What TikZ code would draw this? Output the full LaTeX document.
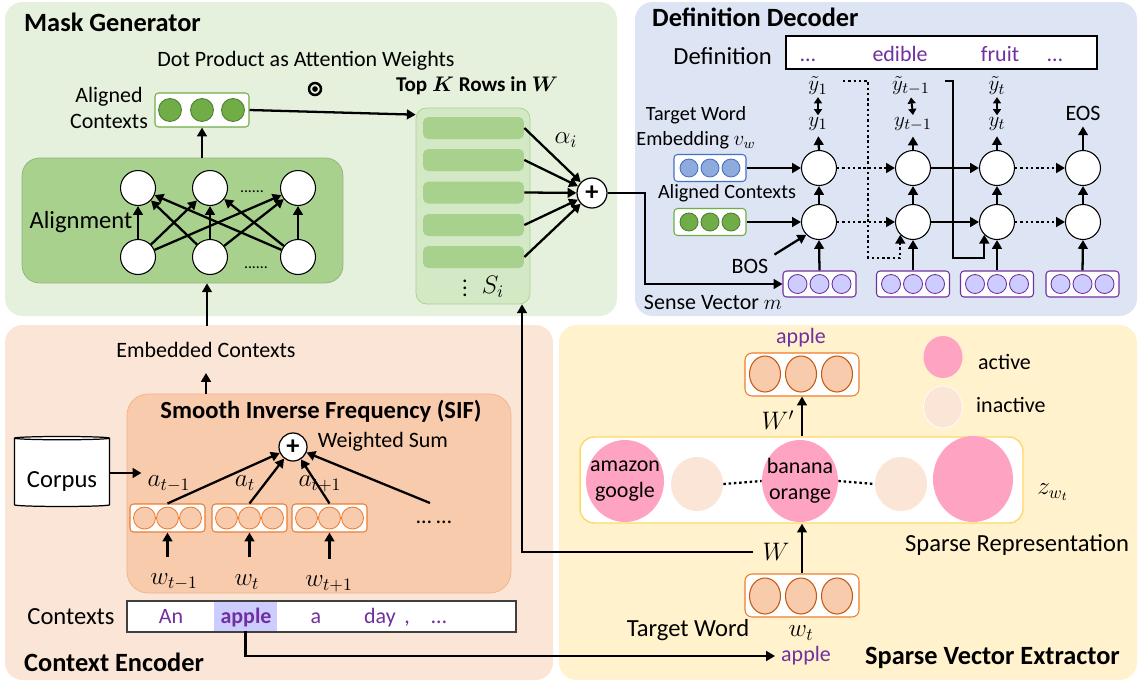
\documentclass[tikz,border=0pt]{standalone}
\usepackage{fontspec}
\usepackage{bm}
\setmainfont{Carlito}
\usetikzlibrary{arrows.meta,shapes.geometric}

\definecolor{mgbg}{HTML}{E5F1DD}
\definecolor{ddbg}{HTML}{DDE4F3}
\definecolor{cebg}{HTML}{FBE5D6}
\definecolor{svbg}{HTML}{FFF2CC}
\definecolor{leaf}{HTML}{70AD47}
\definecolor{leafdark}{HTML}{507E32}
\definecolor{moss}{HTML}{A9D18E}
\definecolor{mosslight}{HTML}{D3E8C4}
\definecolor{sky}{HTML}{8FAADC}
\definecolor{skydark}{HTML}{4472C4}
\definecolor{grape}{HTML}{7030A0}
\definecolor{lilac}{HTML}{CCCCFF}
\definecolor{peach}{HTML}{F8CBAD}
\definecolor{rust}{HTML}{ED7D31}
\definecolor{rustdark}{HTML}{C55A11}
\definecolor{rose}{HTML}{FFA3C2}
\definecolor{sifline}{HTML}{F4B183}
\definecolor{gold}{HTML}{FFD966}

\tikzset{
  every node/.style={font=\fontsize{12.5}{15}\selectfont},
  paneltitle/.style={font=\fontsize{15}{18}\selectfont\bfseries},
  bigtxt/.style={font=\fontsize{14}{16}\selectfont},
  smalltxt/.style={font=\fontsize{11.5}{14}\selectfont},
  arr/.style={-{Triangle[length=5pt,width=5.5pt]}, line width=1.3pt},
  twoway/.style={{Triangle[length=3.5pt,width=4.5pt]}-{Triangle[length=3.5pt,width=4.5pt]}, line width=1.1pt},
  dotline/.style={dash pattern=on 1.4pt off 1.6pt},
  neuron/.style={circle, draw, fill=white, line width=0.6pt, minimum size=0.7cm, inner sep=0pt},
  vecbox/.style={draw, fill=white, rounded corners=2pt, inner sep=0pt, line width=0.6pt},
  sumnode/.style={circle, draw, fill=white, line width=0.7pt, inner sep=0pt, font=\fontsize{15}{15}\selectfont\bfseries},
}

\begin{document}
\begin{tikzpicture}[x=0.02cm, y=-0.02cm]
\useasboundingbox (0,0) rectangle (1139,683);

% Panels
\fill[mgbg, rounded corners=10pt] (5,2) rectangle (617,316);
\fill[ddbg, rounded corners=10pt] (635,2) rectangle (1137,316);
\fill[cebg, rounded corners=10pt] (5,325) rectangle (553,680);
\fill[svbg, rounded corners=10pt] (559,325) rectangle (1137,680);

% Mask Generator
\node[paneltitle, anchor=west] (mgtitle) at (18,22) {Mask Generator};
\node (dotlbl) at (306,61) {Dot Product as Attention Weights};
\node[circle, draw, line width=1.4pt, minimum size=0.24cm, inner sep=0pt] (odot) at (315,89) {};
\fill (odot) circle (1.6pt);
\node[align=center, font=\fontsize{12.5}{15.3}\selectfont] (alignedlbl) at (109,108) {Aligned\\Contexts};
\node[vecbox, draw=leaf, minimum width=1.88cm, minimum height=0.68cm] (mgvec) at (202,110) {};
\foreach \dx in {-32,0,31} \draw[fill=leaf, draw=leafdark, line width=0.5pt] (202+\dx,110) circle (0.23cm);

% Alignment layer
\node[draw=moss!85!black, fill=moss, rounded corners=10pt, minimum width=6.42cm, minimum height=2.5cm] (alignbox) at (182.5,220.5) {};
\node[bigtxt] (alignlbl) at (81,222) {Alignment};
\node[neuron] (t1) at (138,188) {};
\node[neuron] (t2) at (210,188) {};
\node[neuron] (t3) at (298,188) {};
\node[neuron] (b1) at (138,257) {};
\node[neuron] (b2) at (210,257) {};
\node[neuron] (b3) at (298,257) {};
\node[anchor=base, font=\fontsize{9}{9}\selectfont] (topdots) at (252,192) {......};
\node[anchor=base, font=\fontsize{9}{9}\selectfont] (botdots) at (256,268) {......};
\foreach \s in {b1,b2,b3}
  \foreach \t in {t1,t2,t3}
    \draw[arr] (\s) -- (\t);
\draw[arr] (alignbox.north -| mgvec) -- (mgvec.south);

% Top K rows
\node[font=\fontsize{12}{14}\selectfont\bfseries] (topktitle) at (477,86) {Top $\bm{K}$ Rows in $\bm{W}$};
\node[draw=moss, fill=mosslight, rounded corners=6pt, minimum width=2.28cm, minimum height=3.92cm] (topk) at (473,206) {};
\node[fill=moss, rounded corners=3pt, minimum width=2.02cm, minimum height=0.44cm, inner sep=0pt] (row1) at (473.5,128) {};
\node[fill=moss, rounded corners=3pt, minimum width=2.02cm, minimum height=0.44cm, inner sep=0pt] (row2) at (473.5,160) {};
\node[fill=moss, rounded corners=3pt, minimum width=2.02cm, minimum height=0.44cm, inner sep=0pt] (row3) at (473.5,192.5) {};
\node[fill=moss, rounded corners=3pt, minimum width=2.02cm, minimum height=0.44cm, inner sep=0pt] (row4) at (473.5,225) {};
\node[fill=moss, rounded corners=3pt, minimum width=2.02cm, minimum height=0.44cm, inner sep=0pt] (row5) at (473.5,257) {};
\node[inner sep=0pt] (vdots) at (465,283) {$\vdots$};
\node[bigtxt, inner sep=0pt] (si) at (493,287) {$S_i$};
\node[sumnode, minimum size=0.6cm] (topplus) at (592,193) {+};
\foreach \i in {1,...,5} \draw[arr] (row\i.east) -- (topplus);
\node[bigtxt] (alpha) at (566,140) {$\alpha_i$};
\draw[arr] (mgvec.east) -- ([yshift=-0.14cm]topk.north west);

% Definition Decoder
\node[paneltitle, anchor=west] (ddtitle) at (646,17) {Definition Decoder};
\node[bigtxt, anchor=east] (deflbl) at (778,56) {Definition};
\node[draw, fill=white, line width=0.7pt, minimum width=6.22cm, minimum height=0.66cm] (defbox) at (941.5,52.5) {};
\node[text=grape, anchor=base] (dw1) at (808,61) {\dots};
\node[text=grape, anchor=base] (dw2) at (900,61) {edible};
\node[text=grape, anchor=base] (dw3) at (1000,61) {fruit};
\node[text=grape, anchor=base] (dw4) at (1055,61) {\dots};
\node[inner sep=0pt] (yt1) at (818,86) {$\tilde{y}_1$};
\node[inner sep=0pt] (yt2) at (911,86) {$\tilde{y}_{t-1}$};
\node[inner sep=0pt] (yt3) at (997,86) {$\tilde{y}_t$};
\node[inner sep=0pt] (y1) at (818,124) {$y_1$};
\node[inner sep=0pt] (y2) at (913,124) {$y_{t-1}$};
\node[inner sep=0pt] (y3) at (997,124) {$y_t$};
\node (eos) at (1083,113) {EOS};
\draw[twoway] ([yshift=-1pt]yt1.south) -- ([yshift=1pt]y1.north);
\draw[twoway] ([yshift=-1pt]yt2.south) -- ([yshift=1pt]y2.north);
\draw[twoway] ([yshift=-1pt]yt3.south) -- ([yshift=1pt]y3.north);

% Decoder cells
\node[neuron] (u1) at (819,168) {};
\node[neuron] (u2) at (913,168) {};
\node[neuron] (u3) at (997,168) {};
\node[neuron] (u4) at (1083,168) {};
\node[neuron] (l1) at (819,222) {};
\node[neuron] (l2) at (913,222) {};
\node[neuron] (l3) at (997,222) {};
\node[neuron] (l4) at (1083,222) {};
\foreach \i in {1,...,4} \draw[arr] (l\i) -- (u\i);
\draw[arr, shorten >=3pt] (u1.north) -- (y1.south);
\draw[arr, shorten >=3pt] (u2.north) -- (y2.south);
\draw[arr, shorten >=3pt] (u3.north) -- (y3.south);
\draw[arr] (u4.north) -- (eos.south);
\draw[arr, dotline] (u1) -- (u2);
\draw[arr] (u2) -- (u3);
\draw[arr, dotline] (u3) -- (u4);
\draw[arr, dotline] (l1) -- (l2);
\draw[arr] (l2) -- (l3);
\draw[arr, dotline] (l3) -- (l4);

% Feedback of previous words
\coordinate (fbA) at (843,81);
\coordinate (fbB) at (868,258);
\draw[arr, dotline] (fbA) -| (fbB) -| (l2.south west);
\coordinate (fbC) at (945,81);
\coordinate (fbD) at (953,258);
\draw[arr] (fbC) -| (fbD) -| (l3.south west);

% Decoder inputs
\node[smalltxt, align=center] (twlbl) at (696,128) {Target Word\\Embedding $v_w$};
\node[vecbox, draw=skydark, minimum width=1.44cm, minimum height=0.54cm] (twvec) at (710,168) {};
\foreach \dx in {-21,0,21} \draw[fill=sky, draw=skydark, line width=0.5pt] (710+\dx,168) circle (0.18cm);
\node[smalltxt] (aclbl) at (727,193) {Aligned Contexts};
\node[vecbox, draw=leaf, minimum width=1.44cm, minimum height=0.54cm] (acvec) at (710,222) {};
\foreach \dx in {-21,0,21} \draw[fill=leaf, draw=leafdark, line width=0.5pt] (710+\dx,222) circle (0.18cm);
\draw[arr] (twvec.east) -- (u1);
\draw[arr] (acvec.east) -- (l1);
\node (bos) at (750,266) {BOS};
\draw[arr] (bos.25) -- (l1.south west);
\foreach \i/\x in {1/819.5, 2/913, 3/997, 4/1082.5} {
  \node[vecbox, draw=grape, minimum width=1.46cm, minimum height=0.52cm] (sense\i) at (\x,284) {};
  \foreach \dx in {-22,0,22} \draw[fill=lilac, draw=grape, line width=0.5pt] (\x+\dx,284) circle (0.19cm);
  \draw[arr] (sense\i.north) -- (l\i.south);
}
\node (senselbl) at (713,302) {Sense Vector $m$};
\coordinate (mroute) at (645,240);
\draw[arr] (topplus.east) -| (mroute) |- (sense1.west);

% Context Encoder
\node[paneltitle, anchor=west] (cetitle) at (18,662) {Context Encoder};
\node (embctx) at (206,350) {Embedded Contexts};
\coordinate (mgin) at (207,326);
\draw[arr] (mgin) -- (mgin |- alignbox.south);
\node[draw=sifline, fill=peach, rounded corners=12pt, minimum width=7.68cm, minimum height=3.98cm] (sif) at (319,493.5) {};
\coordinate (embtip) at (206,373);
\draw[arr] (sif.north -| embtip) -- (embtip);
\node[font=\fontsize{14}{16}\selectfont\bfseries] (siftitle) at (321,411) {Smooth Inverse Frequency (SIF)};
\node[sumnode, minimum size=0.56cm] (sifplus) at (293,447) {+};
\node (wsum) at (383,442) {Weighted Sum};
\node[cylinder, shape border rotate=90, aspect=0.28, draw, fill=white, line width=0.7pt, minimum width=1.9cm, minimum height=1.4cm] (corpus) at (62,473) {};
\node[bigtxt] (corpuslbl) at (62,481) {Corpus};

% Word vectors and weights
\foreach \i/\x in {1/167.5, 2/249.5, 3/329.5} {
  \node[vecbox, draw=rust, minimum width=1.5cm, minimum height=0.56cm] (sv\i) at (\x,518) {};
  \foreach \dx in {-23,0,23} \draw[fill=peach, draw=rust, line width=0.5pt] (\x+\dx,518) circle (0.22cm);
  \draw[arr] (sv\i.north) -- (sifplus);
}
\node (svdots) at (434,522) {\dots\ \dots};
\coordinate (svmore) at (430,503);
\draw[arr] (svmore) -- (sifplus);
\node[bigtxt] (a1) at (169,484) {$a_{t-1}$};
\node[bigtxt] (a2) at (245,483) {$a_t$};
\node[bigtxt] (a3) at (320,484) {$a_{t+1}$};
\draw[arr] (corpus.east) -- (corpus.east -| a1.west);
\node[bigtxt] (w1) at (174,582) {$w_{t-1}$};
\node[bigtxt] (w2) at (247,582) {$w_t$};
\node[bigtxt] (w3) at (329,584) {$w_{t+1}$};
\foreach \i in {1,2,3} \draw[arr, shorten <=0.22cm] (w\i.north -| sv\i.south) -- (sv\i.south);

% Contexts sentence
\node[bigtxt] (ctxlbl) at (71,617) {Contexts};
\node[draw=black!75, fill=white, line width=0.8pt, minimum width=7.78cm, minimum height=0.62cm] (ctxbox) at (321.5,616.5) {};
\node[fill=lilac, minimum width=1.26cm, minimum height=0.58cm, inner sep=0pt] (applehl) at (245.5,616.5) {};
\node[text=grape, anchor=base] (cw1) at (171,623) {An};
\node[text=grape, anchor=base, font=\fontsize{12.5}{15}\selectfont\bfseries] (cw2) at (246,623) {apple};
\node[text=grape, anchor=base] (cw3) at (316,623) {a};
\node[text=grape, anchor=base] (cw4) at (380,623) {day};
\node[text=grape, anchor=base] (cw5) at (407,623) {,};
\node[text=grape, anchor=base] (cw6) at (439,623) {\dots};
\node[text=grape] (tgtword) at (806,656) {apple};
\draw[arr] (applehl.south) |- (tgtword.west);

% Sparse Vector Extractor
\node[paneltitle, anchor=east] (svtitle) at (1126,658) {Sparse Vector Extractor};
\node[text=grape] (outword) at (801,338) {apple};
\node[vecbox, draw=rust, rounded corners=4pt, minimum width=2.28cm, minimum height=0.86cm] (outvec) at (802,374.5) {};
\foreach \dx in {-36,0,36} \draw[fill=peach, draw=rustdark, line width=0.6pt] (801+\dx,374) ellipse [x radius=0.31cm, y radius=0.36cm];
\node[ellipse, fill=rose, minimum width=0.78cm, minimum height=0.84cm, inner sep=0pt] (actdot) at (943,357) {};
\node[anchor=west] (actlbl) at (972,362) {active};
\node[ellipse, fill=cebg, draw=white, minimum width=0.78cm, minimum height=0.84cm, inner sep=0pt] (inactdot) at (943,407) {};
\node[anchor=west] (inactlbl) at (970,405) {inactive};

% Sparse representation
\node[draw=gold, fill=white, line width=0.8pt, rounded corners=8pt, minimum width=8.86cm, minimum height=1.72cm] (sparsebox) at (801.5,480) {};
\node[ellipse, fill=rose, minimum width=1.56cm, minimum height=1.64cm, inner sep=0pt] (e1) at (625,481) {};
\node[ellipse, fill=cebg, minimum width=1.04cm, minimum height=1.08cm, inner sep=0pt] (e2) at (697,484) {};
\node[ellipse, fill=rose, minimum width=1.52cm, minimum height=1.64cm, inner sep=0pt] (e3) at (800,481) {};
\node[ellipse, fill=cebg, minimum width=1.04cm, minimum height=1.08cm, inner sep=0pt] (e4) at (901,484) {};
\node[ellipse, fill=rose, minimum width=1.6cm, minimum height=1.72cm, inner sep=0pt] (e5) at (973,479) {};
\node[align=center, font=\fontsize{12.5}{14.7}\selectfont] (e1txt) at (625,481) {amazon\\google};
\node[align=center, font=\fontsize{12.5}{14.7}\selectfont] (e3txt) at (800,481) {banana\\orange};
\draw[dotline, line width=1.3pt] (e2.east) -- (e3.west);
\draw[dotline, line width=1.3pt] (e3.east) -- (e4.west);
\node[bigtxt] (zlbl) at (1053,492) {$z_{w_t}$};
\node[bigtxt] (sparselbl) at (1017,545) {Sparse Representation};

% Target word path
\node[bigtxt] (wprime) at (778,420) {$W'$};
\draw[arr] (sparsebox.north -| outvec) -- (outvec.south);
\node[vecbox, draw=rust, rounded corners=4pt, minimum width=2.28cm, minimum height=0.86cm] (tgtvec) at (802,595.5) {};
\foreach \dx in {-36,0,36} \draw[fill=peach, draw=rustdark, line width=0.6pt] (801+\dx,596) ellipse [x radius=0.31cm, y radius=0.36cm];
\draw[arr] (tgtvec.north) -- (tgtvec.north |- sparsebox.south);
\node[bigtxt] (wlbl) at (776,552) {$W$};
\coordinate (wstart) at (753,552);
\coordinate (wturn) at (522,552);
\draw[arr] (wstart) -- (wturn) -- (wturn |- topk.south);
\node[bigtxt] (tgtlbl) at (688,630) {Target Word};
\node[bigtxt] (wt) at (801,633) {$w_t$};
\end{tikzpicture}
\end{document}
